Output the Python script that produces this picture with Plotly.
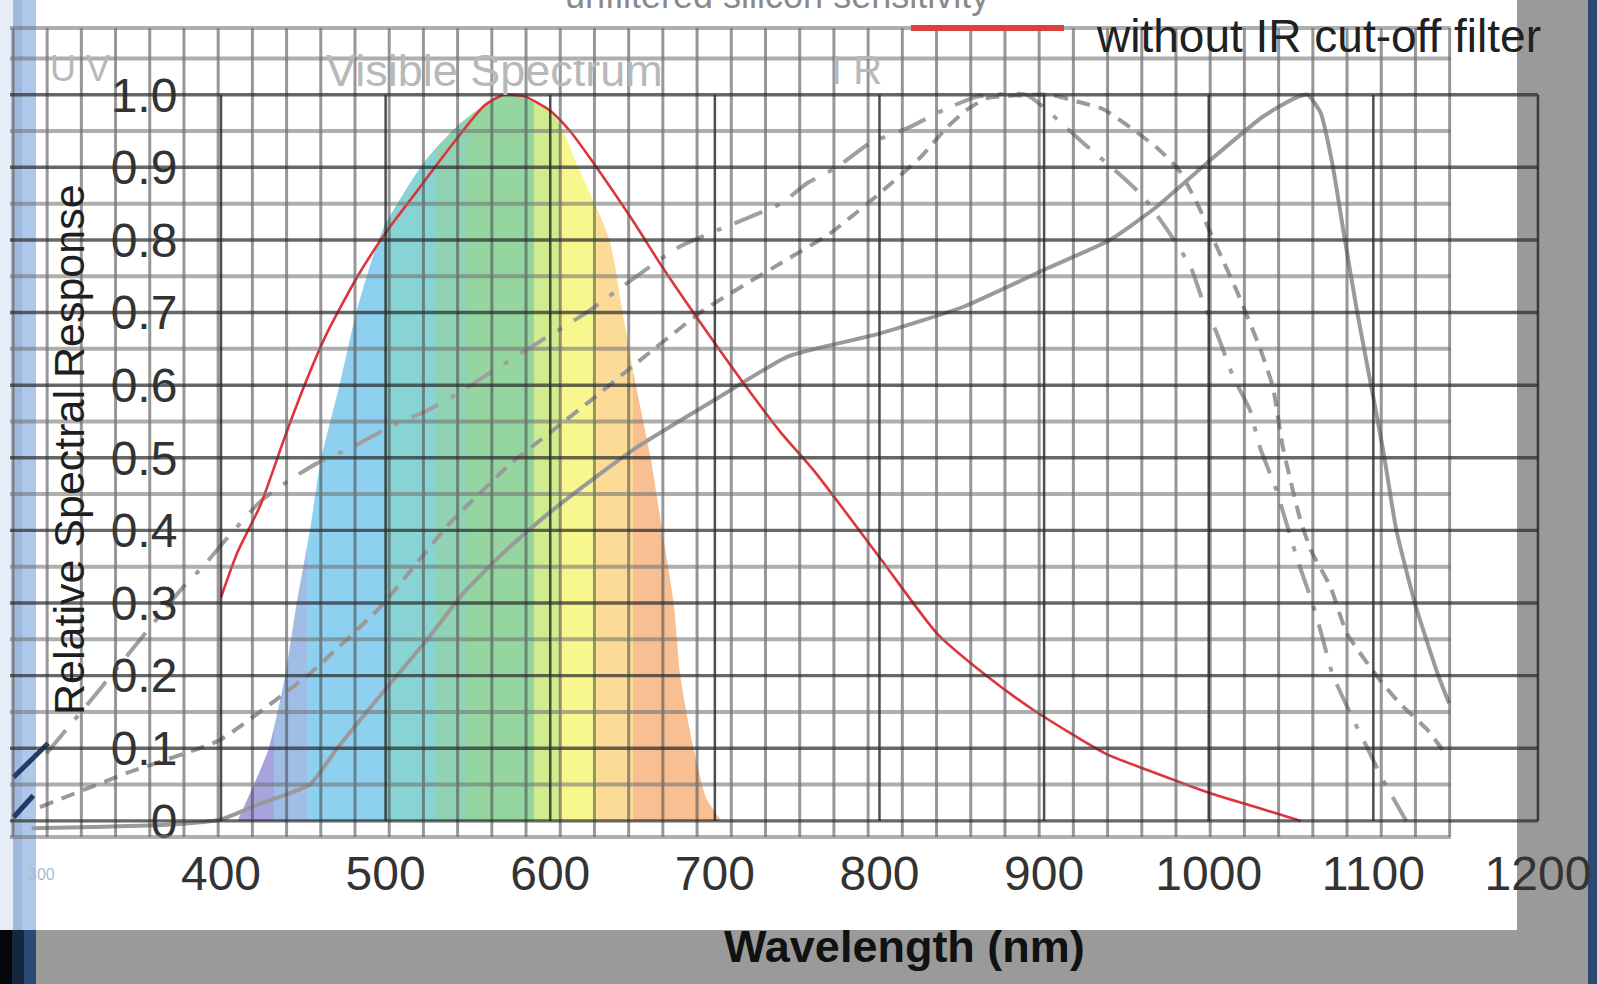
import numpy as np
import plotly.graph_objects as go

# ---------------- data ----------------
tick_nm = [400, 500, 600, 700, 800, 900, 1000, 1100, 1200]
tick_nm_text = ["400", "500", "600", "700", "800", "900", "1000", "1100", "1200"]
tick_resp = [0, 0.1, 0.2, 0.3, 0.4, 0.5, 0.6, 0.7, 0.8, 0.9, 1.0]
tick_resp_text = ["0", "0.1", "0.2", "0.3", "0.4", "0.5", "0.6", "0.7", "0.8", "0.9", "1.0"]

# without IR cut-off filter (red)
red_nm = [400, 410, 424, 439, 452, 464, 483, 501, 520, 540, 560, 572, 585, 600, 612, 625,
          650, 668, 690, 717, 740, 761, 801, 835, 865, 894, 937, 964, 1001, 1030, 1056]
red_val = [0.308, 0.37, 0.435, 0.53, 0.607, 0.67, 0.75, 0.813, 0.87, 0.93, 0.985, 1.0, 0.997, 0.978, 0.95, 0.91,
           0.827, 0.763, 0.69, 0.604, 0.535, 0.48, 0.36, 0.258, 0.2, 0.152, 0.093, 0.069, 0.038, 0.018, 0.0]

# solid grey curve
solid_nm = [285, 330, 369, 400, 424, 454, 470, 498, 525, 547, 571, 596, 628, 653, 700, 745, 800, 851,
            902, 940, 968, 1001, 1033, 1052, 1060, 1068, 1075, 1082, 1090, 1098, 1106, 1114, 1126, 1139, 1146]
solid_val = [-0.01, -0.008, -0.005, 0.002, 0.024, 0.05, 0.098, 0.176, 0.249, 0.313, 0.368, 0.418, 0.474, 0.515,
             0.58, 0.64, 0.671, 0.708, 0.761, 0.8, 0.845, 0.91, 0.97, 0.995, 1.0, 0.975, 0.906, 0.81, 0.703,
             0.607, 0.51, 0.4, 0.294, 0.203, 0.162]

# short-dash grey curve
sdash_nm = [290, 343, 399, 433, 454, 497, 539, 576, 600, 628, 644, 693, 740, 770, 800, 825, 841, 853, 865,
            903, 921, 936, 968, 982, 993, 1005, 1017, 1031, 1039, 1045, 1055, 1062, 1074, 1084, 1104, 1116,
            1133, 1142]
sdash_val = [0.019, 0.066, 0.111, 0.166, 0.203, 0.295, 0.41, 0.492, 0.535, 0.585, 0.615, 0.703, 0.768, 0.809,
             0.864, 0.914, 0.955, 0.979, 0.995, 1.0, 0.99, 0.98, 0.928, 0.896, 0.85, 0.79, 0.73, 0.652, 0.597,
             0.515, 0.42, 0.373, 0.322, 0.258, 0.194, 0.162, 0.125, 0.098]

# long-dash-dot grey curve
ldash_nm = [294, 326, 377, 389, 404, 424, 442, 458, 480, 503, 525, 545, 562, 590, 622, 678, 740, 756, 774, 794,
            818, 839, 859, 889, 924, 946, 960, 976, 989, 997, 1005, 1015, 1025, 1031, 1041, 1054, 1063, 1069,
            1075, 1086, 1096, 1106, 1120]
ldash_val = [0.093, 0.18, 0.322, 0.35, 0.39, 0.44, 0.47, 0.492, 0.515, 0.543, 0.565, 0.59, 0.615, 0.655, 0.70,
             0.79, 0.85, 0.878, 0.9, 0.933, 0.955, 0.979, 0.997, 1.0, 0.933, 0.89, 0.86, 0.81, 0.763, 0.712,
             0.671, 0.611, 0.566, 0.515, 0.456, 0.359, 0.3, 0.253, 0.203, 0.148, 0.102, 0.056, 0.0]

# fragment of a dark blue curve at the far left edge
navy_nm = [274, 280, 286, None, 274, 281, 288, 295]
navy_val = [0.005, 0.02, 0.035, None, 0.06, 0.075, 0.09, 0.107]

# visible spectrum envelope
spec_nm = [410, 420, 429, 439, 446, 454, 461, 472, 483, 498, 523, 545, 572, 600, 617, 636, 644, 652, 661,
           668, 675, 679, 687, 695, 704]
spec_val = [0, 0.05, 0.1, 0.2, 0.3, 0.4, 0.5, 0.6, 0.707, 0.813, 0.906, 0.96, 1.0, 0.98, 0.9, 0.8, 0.7, 0.6,
            0.5, 0.4, 0.3, 0.2, 0.1, 0.03, 0]
spec_band_edges = [405, 432, 452, 500, 530, 550, 590, 606, 628, 650, 705]
spec_band_colors = ["#a7a3dc", "#a0bde6", "#8ed0ef", "#88d3d3", "#8fd3b4", "#95d6a0",
                    "#d0ec8f", "#f7f78e", "#fbdb96", "#f8bf93"]

# ---------------- geometry ----------------
W, H = 1597, 984
ML, MR, MT, MB = 10, 34, 4, 139
K = 1.6462          # px per nm
X400 = 221.0        # px of 400 nm
YS = 726.2          # px per response unit
Y0 = 820.9          # px of response 0
x_lo = 400 - (X400 - ML) / K
x_hi = 400 + (W - MR - X400) / K
y_lo = -(H - MB - Y0) / YS
y_hi = (Y0 - MT) / YS
PW = W - ML - MR
PH = H - MT - MB


def fx(px):
    return (px - ML) / PW


def fy(py):
    return (H - MB - py) / PH


SANS = "Liberation Sans, Arial, sans-serif"

fig = go.Figure()

# spectrum fill
s0, s1 = spec_band_edges[0], spec_band_edges[-1]
cs = []
for i, col in enumerate(spec_band_colors):
    a = (spec_band_edges[i] - s0) / (s1 - s0)
    b = (spec_band_edges[i + 1] - s0) / (s1 - s0)
    if i > 0:
        a += 0.0005
    cs.append([a, col])
    cs.append([b, col])
fig.add_trace(go.Scatter(
    x=spec_nm, y=spec_val, mode="lines", line=dict(width=0, shape="spline", smoothing=0.6),
    fill="tozeroy", fillgradient=dict(type="horizontal", colorscale=cs, start=s0, stop=s1),
    hoverinfo="skip", showlegend=False))

grey = "#9a9a9a"
fig.add_trace(go.Scatter(x=solid_nm, y=solid_val, mode="lines", name="solid",
                         line=dict(color=grey, width=4, shape="spline", smoothing=0.5)))
fig.add_trace(go.Scatter(x=sdash_nm, y=sdash_val, mode="lines", name="short dash",
                         line=dict(color=grey, width=4, dash="14px,9px", shape="spline", smoothing=0.5)))
fig.add_trace(go.Scatter(x=ldash_nm, y=ldash_val, mode="lines", name="long dash",
                         line=dict(color="#a0a0a0", width=4, dash="30px,14px,5px,14px",
                                   shape="spline", smoothing=0.5)))
fig.add_trace(go.Scatter(x=navy_nm, y=navy_val, mode="lines", name="navy",
                         line=dict(color="#1e3c6a", width=5)))
fig.add_trace(go.Scatter(x=red_nm, y=red_val, mode="lines", name="without IR cut-off filter",
                         line=dict(color="#e0343c", width=2.6, shape="spline", smoothing=0.6)))

shapes = []


def prect(x0, x1, y0, y1, color):
    shapes.append(dict(type="rect", xref="paper", yref="paper", x0=fx(x0), x1=fx(x1), y0=fy(y1), y1=fy(y0),
                       fillcolor=color, line=dict(width=0), layer="below"))


# page backgrounds (pixel boxes of the page regions)
prect(0, 1517, 0, 930, "white")
prect(0, 13, 0, 930, "#e6edf7")
prect(13, 22, 0, 930, "#9db9df")
prect(22, 36, 0, 930, "#afc8ea")
prect(0, 12, 930, 984, "#04060a")
prect(12, 24, 930, 984, "#15263d")
prect(24, 36, 930, 984, "#2b4a73")
prect(1588, 1597, 0, 984, "#2a4a72")

# background grid (from an underlying image)
bg_v_start, bg_v_step, bg_v_count = 273.6, 20.78, 43
bg_top, bg_bottom, bg_right = 1.092, -0.022, 1147
for k in range(bg_v_count):
    v = bg_v_start + k * bg_v_step
    shapes.append(dict(type="line", xref="x", yref="y", x0=v, x1=v, y0=bg_bottom, y1=bg_top,
                       line=dict(color="rgba(75,75,75,0.58)", width=3), layer="above"))
for h in [bg_bottom] + [0.05 + 0.1 * k for k in range(11)] + [bg_top]:
    shapes.append(dict(type="line", xref="x", yref="y", x0=x_lo, x1=bg_right, y0=h, y1=h,
                       line=dict(color="rgba(115,115,115,0.58)", width=4), layer="above"))
# main chart frame and major grid
for v in tick_nm:
    shapes.append(dict(type="line", xref="x", yref="y", x0=v, x1=v, y0=0, y1=1.0,
                       line=dict(color="rgba(35,35,35,0.8)", width=2.5), layer="above"))
for h in tick_resp:
    shapes.append(dict(type="line", xref="x", yref="y", x0=x_lo, x1=1200, y0=h, y1=h,
                       line=dict(color="rgba(45,45,45,0.72)", width=3.4), layer="above"))
# legend sample for red line
shapes.append(dict(type="line", xref="paper", yref="paper", x0=fx(911), x1=fx(1064), y0=fy(28), y1=fy(28),
                   line=dict(color="#d8413f", width=6), layer="above"))

ann = []


def txt(text, px, py, size, color, angle=0, family=SANS):
    ann.append(dict(text=text, x=fx(px), y=fy(py), xref="paper", yref="paper", xanchor="center",
                    yanchor="middle", textangle=angle, showarrow=False,
                    font=dict(family=family, size=size, color=color)))


txt("unfiltered silicon sensitivity", 777, -5, 36, "#8a8a8a")
txt("without IR cut-off filter", 1318, 36, 46, "#202020")
txt("Visible Spectrum", 494, 70, 45, "#b8b8b8")
txt("I R", 856, 70, 40, "#b8b8b8")
txt("U V", 80, 68, 36, "#b8b8b8")
txt("Relative Spectral Response", 69, 450, 43, "#1e1e1e", angle=-90)
txt("<b>Wavelength (nm)</b>", 904, 946, 45, "#111111")
txt("300", 41, 874, 16, "#a9bbd6")

fig.update_layout(
    width=W, height=H,
    margin=dict(l=ML, r=MR, t=MT, b=MB, pad=0),
    paper_bgcolor="#9a9a9a", plot_bgcolor="rgba(0,0,0,0)",
    showlegend=False,
    shapes=shapes, annotations=ann,
    xaxis=dict(range=[x_lo, x_hi], tickvals=tick_nm, ticktext=tick_nm_text, showgrid=False,
               zeroline=False, showline=False, anchor="free", position=fy(827),
               ticks="outside", ticklen=4, tickcolor="rgba(0,0,0,0)", ticklabeloverflow="allow",
               tickfont=dict(family=SANS, size=48, color="#333333")),
    yaxis=dict(range=[y_lo, y_hi], tickvals=tick_resp, ticktext=tick_resp_text, showgrid=False,
               zeroline=False, showline=False, anchor="free", position=fx(X400),
               ticks="outside", ticklen=34, tickcolor="rgba(0,0,0,0)",
               tickfont=dict(family=SANS, size=48, color="#333333")),
)

fig.write_html("out.html", config={"displayModeBar": False},
               post_script="document.body.style.margin='0';document.body.style.overflow='hidden';")
